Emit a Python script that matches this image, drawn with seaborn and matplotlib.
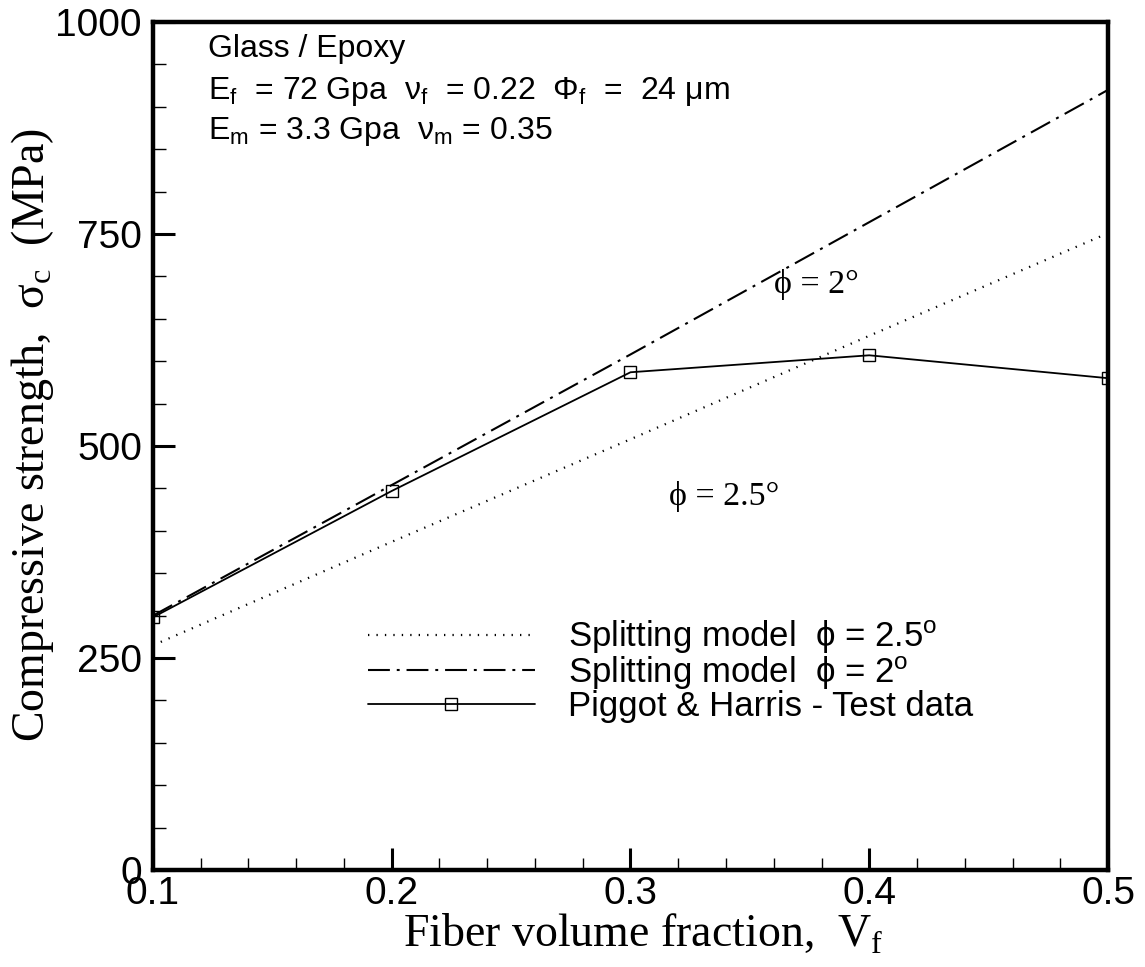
import matplotlib
matplotlib.use("Agg")
import matplotlib.pyplot as plt
import seaborn as sns
import pandas as pd
import numpy as np

# ---- data ----
vf = [0.1, 0.2, 0.3, 0.4, 0.5]
split_25 = [265, 387, 508, 630, 751]     # Splitting model phi = 2.5 deg
split_20 = [300, 454, 608, 764, 920]     # Splitting model phi = 2 deg
test_vf = [0.1, 0.2, 0.3, 0.4, 0.5]
test_data = [298, 447, 587, 607, 580]    # Piggot & Harris - Test data

labels = [r"Splitting model  ϕ = 2.5$^{\mathregular{o}}$",
          r"Splitting model  ϕ = 2$^{\mathregular{o}}$",
          "Piggot & Harris - Test data"]

sns.set_theme(style="white")
plt.rcParams['font.family'] = ['Liberation Sans', 'DejaVu Sans']
plt.rcParams['mathtext.fontset'] = 'custom'
plt.rcParams['mathtext.rm'] = 'Liberation Sans'
plt.rcParams['mathtext.it'] = 'Liberation Sans:italic'
plt.rcParams['mathtext.bf'] = 'Liberation Sans:bold'
plt.rcParams['text.color'] = 'black'
plt.rcParams['axes.labelcolor'] = 'black'
plt.rcParams['xtick.color'] = 'black'
plt.rcParams['ytick.color'] = 'black'

fig = plt.figure(figsize=(11.45, 9.67), dpi=100)
ax = fig.add_axes([0.1336, 0.1003, 0.9677 - 0.1336, 0.9772 - 0.1003])

df = pd.DataFrame({"vf": vf, "s25": split_25, "s20": split_20})
dft = pd.DataFrame({"vf": test_vf, "test": test_data})

sns.lineplot(data=df, x="vf", y="s25", ax=ax, color="black", lw=1.6,
             linestyle=(0, (0.6, 3.2)), label=labels[0])
sns.lineplot(data=df, x="vf", y="s20", ax=ax, color="black", lw=1.5,
             linestyle=(0, (10.5, 3.3, 1.4, 3.3)), label=labels[1])
sns.lineplot(data=dft, x="vf", y="test", ax=ax, color="black", lw=1.3,
             marker="s", markersize=8, markerfacecolor="none",
             markeredgecolor="black", markeredgewidth=1.0, label=labels[2])

ax.set_xlim(0.1, 0.5)
ax.set_ylim(0, 1000)
ax.set_xticks([0.1, 0.2, 0.3, 0.4, 0.5])
ax.set_xticklabels(["0.1", "0.2", "0.3", "0.4", "0.5"])
ax.set_yticks([0, 250, 500, 750, 1000])
ax.set_xticks(np.arange(0.1, 0.5001, 0.02), minor=True)
ax.set_yticks(np.arange(0, 1001, 50), minor=True)

for s in ax.spines.values():
    s.set_linewidth(3.2)
    s.set_color("black")

ax.tick_params(which="major", direction="in", length=16, width=2.2,
               labelsize=28, top=False, right=False, left=True, bottom=True,
               color="black", labelcolor="black")
ax.tick_params(axis="y", which="major", pad=8)
ax.tick_params(axis="x", which="major", pad=4)
ax.tick_params(which="minor", direction="in", length=9, width=1.0,
               top=False, right=False, left=True, bottom=True, color="black")

serif = ['Liberation Serif', 'DejaVu Serif']
ax.set_xlabel(r"Fiber volume fraction,  V$_{\mathregular{f}}$", fontsize=33,
              family=serif, color="black")
ax.set_ylabel(r"Compressive strength,  σ$_{\mathregular{c}}$  (MPa)", fontsize=33,
              family=serif, color="black")
ax.yaxis.set_label_coords(-0.1015, 0.513)
ax.xaxis.set_label_coords(0.513, -0.050)

# annotations
ax.text(0.36, 690, "ϕ = 2°", fontsize=24.5, family=serif, va="center", ha="left",
        color="black")
ax.text(0.316, 440, "ϕ = 2.5°", fontsize=24.5, family=serif, va="center", ha="left",
        color="black")

ax.text(0.123, 968, "Glass / Epoxy", fontsize=23, va="center", ha="left")
ax.text(0.123, 918,
        r"E$_{\mathregular{f}}$  = 72 Gpa  ν$_{\mathregular{f}}$  = 0.22  Φ$_{\mathregular{f}}$  =  24 μm",
        fontsize=23, va="center", ha="left")
ax.text(0.123, 871,
        r"E$_{\mathregular{m}}$ = 3.3 Gpa  ν$_{\mathregular{m}}$ = 0.35",
        fontsize=23, va="center", ha="left")

leg = ax.legend(loc="upper left", bbox_to_anchor=(0.225, 0.297), frameon=False,
                fontsize=25, handlelength=4.8, handletextpad=0.95,
                labelspacing=-0.05, numpoints=1, borderpad=0.0,
                borderaxespad=0.0)
for t in leg.get_texts():
    t.set_color("black")

fig.savefig("out.png", dpi=100, facecolor="white")
